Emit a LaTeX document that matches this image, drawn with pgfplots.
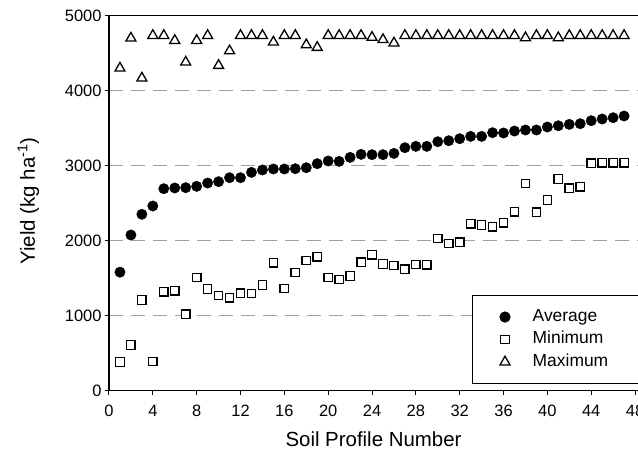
\documentclass[border=0pt]{standalone}
\usepackage{pgfplots}
\pgfplotsset{compat=1.18}
\usepackage{pgfplotstable}
\usepackage{fontspec}
\setmainfont{Liberation Sans}
\pgfplotstableread{
n y
1 1580
2 2076
3 2352
4 2463
5 2693
6 2703
7 2707
8 2725
9 2769
10 2787
11 2840
12 2840
13 2911
14 2943
15 2956
16 2956
17 2960
18 2973
19 3027
20 3063
21 3058
22 3111
23 3151
24 3147
25 3147
26 3164
27 3240
28 3258
29 3258
30 3320
31 3333
32 3360
33 3391
34 3391
35 3440
36 3436
37 3462
38 3476
39 3476
40 3516
41 3533
42 3551
43 3560
44 3600
45 3623
46 3640
47 3663
}\avgdata
\pgfplotstableread{
n y
1 383
2 609
3 1209
4 391
5 1320
6 1333
7 1022
8 1511
9 1356
10 1271
11 1240
12 1302
13 1298
14 1409
15 1707
16 1364
17 1578
18 1738
19 1787
20 1511
21 1484
22 1529
23 1715
24 1813
25 1689
26 1671
27 1622
28 1684
29 1680
30 2031
31 1964
32 1982
33 2227
34 2209
35 2187
36 2240
37 2387
38 2764
39 2378
40 2543
41 2823
42 2698
43 2720
44 3032
45 3040
46 3040
47 3040
}\mindata
\pgfplotstableread{
n y
1 4300
2 4700
3 4167
4 4735
5 4735
6 4669
7 4380
8 4669
9 4735
10 4336
11 4531
12 4735
13 4735
14 4735
15 4647
16 4735
17 4735
18 4611
19 4576
20 4735
21 4735
22 4735
23 4735
24 4710
25 4680
26 4635
27 4735
28 4735
29 4735
30 4735
31 4735
32 4735
33 4735
34 4735
35 4735
36 4735
37 4735
38 4705
39 4735
40 4735
41 4705
42 4735
43 4735
44 4735
45 4735
46 4735
47 4735
}\maxdata
\begin{document}
\begin{tikzpicture}
\begin{axis}[
  at={(0,0)}, anchor=south west,
  scale only axis, width=529bp, height=375bp,
  xmin=0, xmax=48.27, ymin=0, ymax=5000,
  axis x line*=box, axis y line*=left,
  axis line style={-, line width=1.1bp, black},
  xtick={0,4,...,48}, ytick={0,1000,...,5000},
  xtick pos=left, ytick pos=left,
  tick align=outside, major tick length=4bp,
  tick style={line width=1bp, black},
  ymajorgrids,
  major grid style={gray!75, line width=1.3bp, dash pattern=on 14bp off 8bp},
  /pgf/number format/assume math mode=true,
  /pgf/number format/1000 sep={},
  tick label style={font=\fontsize{16.5}{19}\selectfont},
  xticklabel style={yshift=-7bp},
  label style={font=\fontsize{20.5}{24}\selectfont},
  xlabel={Soil Profile Number},
  ylabel={Yield (kg ha\textsuperscript{-1})},
  xlabel style={at={(axis description cs:0.5,-0.1501)}, anchor=base},
  ylabel style={at={(axis description cs:-0.1399,0.506)}, anchor=base, rotate=0},
  legend cell align=left,
  legend style={at={(rel axis cs:0.686,0.018)}, anchor=south west,
    draw=black, line width=0.8bp, inner xsep=27.5bp, inner ysep=14bp,
    font=\fontsize{17.5}{20}\selectfont,
    row sep=7.5bp, column sep=22.5bp,
    nodes={inner sep=0pt, text height=11.5bp, text depth=3.5bp}},
]
\addplot[only marks, mark=*, mark size=5.2bp, black] table[x=n,y=y] {\avgdata};
\addlegendentry{Average}
\addplot[only marks, mark=square*, mark size=4.2bp, black, mark options={line width=1.3bp, draw=black, fill=white}] table[x=n,y=y] {\mindata};
\addlegendentry{Minimum}
\addplot[only marks, mark=triangle*, mark size=5.8bp, black, mark options={line width=1.3bp, draw=black, fill=white}] table[x=n,y=y] {\maxdata};
\addlegendentry{Maximum\hspace*{25bp}}
\end{axis}
\pgfresetboundingbox
\path[use as bounding box] (-109bp,-61.3bp) rectangle (529bp,390.7bp);
\end{tikzpicture}
\end{document}
